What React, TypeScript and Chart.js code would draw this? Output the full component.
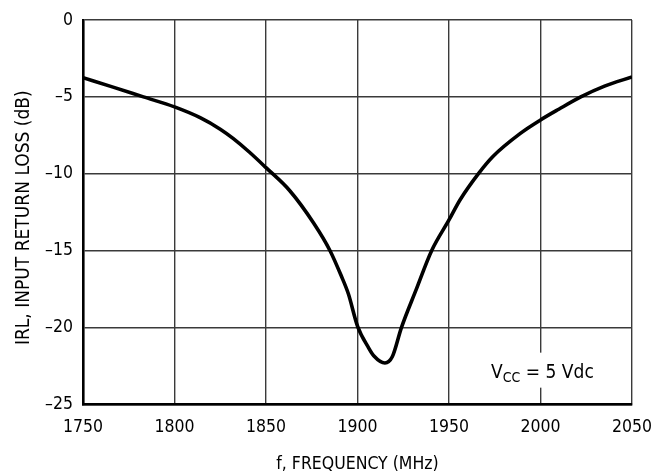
import React, { useEffect, useRef } from "react";
import { Chart, registerables } from "chart.js";

Chart.register(...registerables);

const freqMHz = [1750, 1766, 1783, 1800, 1814, 1825, 1832, 1841, 1850, 1863, 1876, 1885, 1891, 1895, 1900, 1906, 1909, 1915, 1919, 1924, 1932, 1940.5, 1950, 1956, 1966, 1974, 1989, 2000, 2010, 2022, 2035, 2050];
const irlDb = [-3.75, -4.35, -5.0, -5.65, -6.35, -7.1, -7.7, -8.6, -9.6, -11.1, -13.2, -15.0, -16.6, -17.8, -19.9, -21.3, -21.85, -22.3, -21.9, -20.0, -17.55, -15.0, -13.0, -11.7, -10.0, -8.87, -7.37, -6.5, -5.8, -5.0, -4.3, -3.7];
const xTitle = "f, FREQUENCY (MHz)";
const yTitle = "IRL, INPUT RETURN LOSS (dB)";
const noteMain = "V";
const noteSub = "CC";
const noteRest = " = 5 Vdc";
const noteFreq = 1973;
const noteDb = -22.8;

const FONT = "'Liberation Sans Narrow', 'DejaVu Sans Condensed', 'Liberation Sans', Arial, sans-serif";

export default function App() {
  const ref = useRef<HTMLCanvasElement | null>(null);
  useEffect(() => {
    if (!ref.current) return;
    const notePlugin = {
      id: "note",
      afterDraw(chart: any) {
        const ctx = chart.ctx;
        const xs = chart.scales.x;
        const ys = chart.scales.y;
        const x0 = xs.getPixelForValue(noteFreq);
        const cy = ys.getPixelForValue(noteDb);
        ctx.save();
        ctx.font = `19px ${FONT}`;
        const wMain = ctx.measureText(noteMain).width;
        const wRest = ctx.measureText(noteRest).width;
        ctx.font = `14px ${FONT}`;
        const wSub = ctx.measureText(noteSub).width;
        const total = wMain + wSub + wRest;
        ctx.fillStyle = "#ffffff";
        ctx.fillRect(x0 - 4, cy - 18, total + 8, 35);
        ctx.fillStyle = "#000000";
        ctx.textBaseline = "alphabetic";
        ctx.textAlign = "left";
        ctx.font = `19px ${FONT}`;
        ctx.fillText(noteMain, x0, cy + 7.5);
        ctx.font = `14px ${FONT}`;
        ctx.fillText(noteSub, x0 + wMain, cy + 11);
        ctx.font = `19px ${FONT}`;
        ctx.fillText(noteRest, x0 + wMain + wSub, cy + 7.5);
        ctx.restore();
      },
    };
    const chart = new Chart(ref.current, {
      type: "line",
      data: {
        datasets: [
          {
            data: freqMHz.map((f, i) => ({ x: f, y: irlDb[i] })),
            borderColor: "#000000",
            borderWidth: 3.6,
            pointRadius: 0,
            cubicInterpolationMode: "monotone",
            fill: false,
          },
        ],
      },
      options: {
        animation: false,
        responsive: false,
        maintainAspectRatio: false,
        layout: { padding: { top: 20, right: 19, left: 0, bottom: 0 } },
        plugins: { legend: { display: false }, tooltip: { enabled: false } },
        scales: {
          x: {
            type: "linear",
            min: 1750,
            max: 2050,
            afterFit: (s: any) => {
              s.height = 70.5;
              s.paddingLeft = 0;
              s.paddingRight = 0;
            },
            ticks: {
              stepSize: 50,
              color: "#000",
              padding: 12,
              font: { family: FONT, size: 17.5 },
              maxRotation: 0,
              callback: (v: any) => String(v),
            },
            grid: { color: "#3a3a3a", lineWidth: 1.4, drawTicks: false },
            border: { display: true, color: "#000", width: 2.6 },
            title: {
              display: true,
              text: xTitle,
              color: "#000",
              font: { family: FONT, size: 17.5 },
              padding: { top: 0, bottom: 0 },
            },
          },
          y: {
            type: "linear",
            min: -25,
            max: 0,
            afterFit: (s: any) => {
              s.width = 83;
              s.paddingTop = 0;
              s.paddingBottom = 0;
            },
            ticks: {
              stepSize: 5,
              color: "#000",
              padding: 10,
              font: { family: FONT, size: 17.5 },
              callback: (v: any) => String(v).replace("-", "\u2013"),
            },
            grid: { color: "#3a3a3a", lineWidth: 1.4, drawTicks: false },
            border: { display: true, color: "#000", width: 2.6 },
            title: {
              display: true,
              text: yTitle + "\u00a0\u00a0",
              color: "#000",
              font: { family: FONT, size: 19 },
              padding: { top: 13, bottom: 0 },
            },
          },
        },
      },
      plugins: [notePlugin],
    });
    return () => chart.destroy();
  }, []);
  return (
    <div style={{ position: "fixed", left: 0, top: 0, width: 651, height: 475, background: "#fff" }}>
      <canvas ref={ref} width={651} height={475} style={{ width: 651, height: 475, display: "block" }} />
    </div>
  );
}
